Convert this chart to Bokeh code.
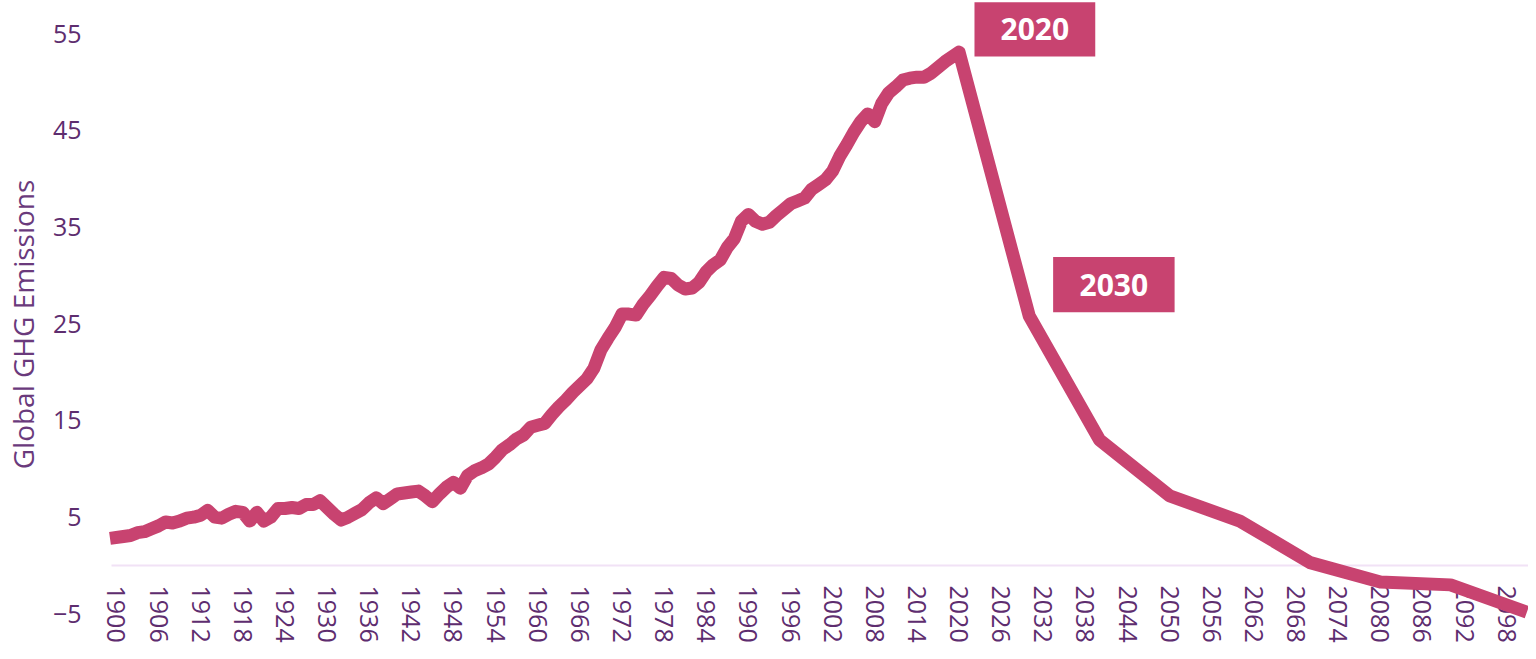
import math
from bokeh.plotting import figure
from bokeh.models import Range1d, FixedTicker, BoxAnnotation, Label
from bokeh.embed import file_html
from bokeh.resources import INLINE

# ---------------- data ----------------
hist_years = list(range(1900, 2021))
hist_values = [
    2.9, 3.0, 3.1, 3.4, 3.5, 3.8, 4.1, 4.5, 4.4, 4.6,        # 1900-1909
    4.9, 5.0, 5.2, 5.7, 5.0, 4.9, 5.3, 5.6, 5.5, 4.6,        # 1910-1919
    5.5, 4.6, 5.0, 5.9, 5.9, 6.0, 5.9, 6.3, 6.3, 6.7,        # 1920-1929
    6.0, 5.3, 4.7, 5.0, 5.4, 5.8, 6.5, 7.0, 6.4, 6.9,        # 1930-1939
    7.4, 7.5, 7.6, 7.7, 7.2, 6.6, 7.4, 8.1, 8.6, 8.0,        # 1940-1949
    9.3, 9.8, 10.1, 10.5, 11.2, 12.0, 12.5, 13.1, 13.5, 14.3,  # 1950-1959
    14.5, 14.7, 15.6, 16.4, 17.1, 17.9, 18.6, 19.3, 20.4, 22.3,  # 1960-1969
    23.5, 24.6, 26.0, 26.0, 25.9, 27.0, 27.9, 28.9, 29.8, 29.7,  # 1970-1979
    29.0, 28.6, 28.7, 29.3, 30.4, 31.1, 31.6, 32.9, 33.8, 35.6,  # 1980-1989
    36.3, 35.6, 35.3, 35.5, 36.2, 36.8, 37.4, 37.7, 38.0, 38.9,  # 1990-1999
    39.4, 39.9, 40.8, 42.3, 43.5, 44.8, 45.9, 46.7, 45.9, 47.8,  # 2000-2009
    48.9, 49.5, 50.2, 50.4, 50.5, 50.5, 50.9, 51.5, 52.1, 52.6,  # 2010-2019
    53.1,                                                      # 2020
]
proj_years = [2030, 2040, 2050, 2060, 2070, 2080, 2090, 2100]
proj_values = [25.8, 13.0, 7.2, 4.6, 0.3, -1.7, -2.0, -4.6]

years = hist_years + proj_years
values = hist_values + proj_values

x_tick_years = list(range(1900, 2099, 6))
y_ticks = [-5, 5, 15, 25, 35, 45, 55]
y_title = "Global GHG Emissions"
callout_years = [2020, 2030]

# ---------------- style ----------------
PINK = "#C84370"
PURPLE = "#5E2D6F"
ZERO = "#F1E2F6"
FONT = "Open Sans"

X0, X1 = 1898.16, 2101.1
Y0, Y1 = -8.58, 58.43

p = figure(
    width=1528, height=648,
    x_range=Range1d(X0, X1),
    y_range=Range1d(Y0, Y1),
    output_backend="svg", toolbar_location=None,
    min_border_left=91, min_border_right=0,
    min_border_top=0, min_border_bottom=0,
)
p.outline_line_color = None
p.xgrid.grid_line_color = None
p.ygrid.grid_line_color = None
p.background_fill_color = "white"
p.border_fill_color = "white"

p.line(years, values, line_color=PINK, line_width=13,
       line_join="round", line_cap="square")

# x axis drawn at y = 0; its line is the light zero line
xa = p.xaxis[0]
xa.fixed_location = 0
xa.level = "underlay"
xa.bounds = (X0 + 1.13, X1)
xa.ticker = FixedTicker(ticks=x_tick_years)
xa.axis_line_color = ZERO
xa.axis_line_width = 2
xa.major_tick_line_color = None
xa.minor_tick_line_color = None
xa.major_tick_out = 0
xa.major_tick_in = 0
xa.major_label_standoff = 20
xa.major_label_orientation = "vertical"
xa.major_label_text_font = FONT
xa.major_label_text_font_size = "25px"
xa.major_label_text_color = PURPLE

# y axis
ya = p.yaxis[0]
ya.ticker = FixedTicker(ticks=y_ticks)
ya.axis_line_color = None
ya.major_tick_line_color = None
ya.minor_tick_line_color = None
ya.major_tick_out = 0
ya.major_tick_in = 0
ya.major_label_standoff = 22
ya.major_label_text_font = FONT
ya.major_label_text_font_size = "25px"
ya.major_label_text_color = PURPLE
ya.axis_label = y_title
ya.axis_label_text_font = FONT
ya.axis_label_text_font_size = "28px"
ya.axis_label_text_font_style = "normal"
ya.axis_label_text_color = "#6A3A7C"
ya.axis_label_standoff = 8

# callout boxes, positioned relative to their data point
offsets = {
    2020: dict(l=2.2, r=19.4, b=-0.46, t=5.16),
    2030: dict(l=3.4, r=20.7, b=0.4, t=6.1),
}
for yr in callout_years:
    v = values[years.index(yr)]
    o = offsets[yr]
    top = min(v + o["t"], Y1)
    bottom = v + o["b"]
    p.add_layout(BoxAnnotation(left=yr + o["l"], right=yr + o["r"],
                               bottom=bottom, top=top,
                               fill_color=PINK, fill_alpha=1.0,
                               line_color=None))
    p.add_layout(Label(x=yr + (o["l"] + o["r"]) / 2, y=(bottom + top) / 2,
                       text=str(yr), text_align="center", text_baseline="middle",
                       text_color="white", text_font=FONT,
                       text_font_size="30px", text_font_style="bold"))

open("out.html", "w").write(file_html(p, INLINE))
